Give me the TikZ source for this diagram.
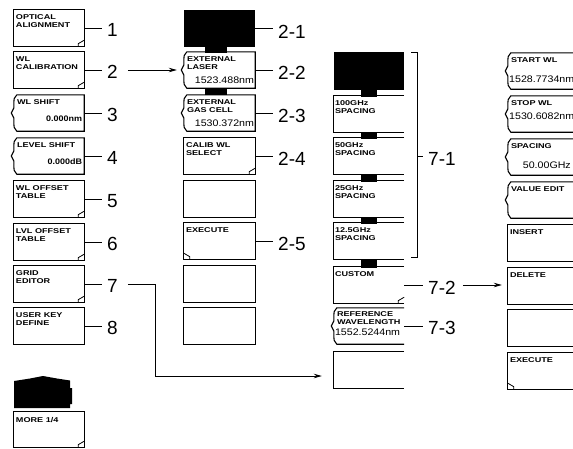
\documentclass[tikz,border=0pt]{standalone}
\usepackage{fontspec}
\setmainfont{Liberation Sans}
\newfontfamily\boxfont[FakeStretch=1.3]{Liberation Sans}
\newfontfamily\valfont[FakeStretch=1.12]{Liberation Sans}
\usetikzlibrary{calc,arrows.meta}

\tikzset{
  bl/.style={line width=1.1pt},
  ln/.style={line width=0.8pt},
  slot/.style={rectangle, inner sep=0pt, draw=none, minimum width=#1},
  btxt/.style={inner sep=0pt, anchor=north west, align=left, font={\boxfont\bfseries\fontsize{7}{8}\selectfont}},
  vtxt/.style={inner sep=0pt, font={\valfont\fontsize{9.5}{10}\selectfont}},
  vbold/.style={inner sep=0pt, font={\valfont\bfseries\fontsize{8}{9}\selectfont}},
  lab/.style={inner sep=5pt, anchor=west, font={\fontsize{19}{19}\selectfont}},
  arr/.style={ln, -{Stealth[length=8pt,width=4.5pt]}}
}

\newcommand\slotnode[5]{\node[slot=#4pt, minimum height=#5pt] (#1) at ({#2+#4/2},{#3+#5/2}) {};}
\newcommand\krect[1]{\draw[bl] (#1.north west) rectangle (#1.south east);}
\newcommand\kopen[1]{\draw[bl] (#1.north east) -- (#1.north west) -- (#1.south west) -- (#1.south east);}
\newcommand\kbrace[1]{\draw[bl] ($(#1.north west)+(3,0)$) -- (#1.north east) -- (#1.south east) -- ($(#1.south west)+(3,0)$) .. controls ($(#1.south west)+(0,-3)$) .. ($(#1.west)+(0,5)$) -- ($(#1.west)+(-2.5,0)$) -- ($(#1.west)+(0,-5)$) .. controls ($(#1.north west)+(0,3)$) .. ($(#1.north west)+(3,0)$);}
\newcommand\kbraceopen[1]{\draw[bl] (#1.north east) -- ($(#1.north west)+(3,0)$) .. controls ($(#1.north west)+(0,3)$) .. ($(#1.west)+(0,-5)$) -- ($(#1.west)+(-2.5,0)$) -- ($(#1.west)+(0,5)$) .. controls ($(#1.south west)+(0,-3)$) .. ($(#1.south west)+(3,0)$) -- (#1.south east);}
\newcommand\kfoldbr[1]{\draw[ln] ($(#1.south east)+(-6,0)$) -- ++(0,-2.5) -- ($(#1.south east)+(0,-6)$);}
\newcommand\kfoldbl[1]{\draw[ln] ($(#1.south west)+(6,0)$) -- ++(0,-2.5) -- ($(#1.south west)+(0,-6)$);}

\begin{document}
\begin{tikzpicture}[x=1pt,y=-1pt]
\useasboundingbox (0,0) rectangle (573,448);
\clip (0,0) rectangle (573,448);

% ---------- column 1 ----------
\slotnode{b1}{14}{10}{70}{36}\krect{b1}\kfoldbr{b1}
\slotnode{b2}{14}{52}{70}{36}\krect{b2}\kfoldbr{b2}
\slotnode{b3}{14}{95}{70}{36}\kbrace{b3}
\slotnode{b4}{14}{138}{70}{36}\kbrace{b4}
\slotnode{b5}{14}{181}{70}{36}\krect{b5}\kfoldbr{b5}
\slotnode{b6}{14}{224}{70}{36}\krect{b6}\kfoldbr{b6}
\slotnode{b7}{14}{266}{70}{36}\krect{b7}\kfoldbr{b7}
\slotnode{b8}{14}{308}{70}{36}\krect{b8}
\fill (14,408) -- (14,381) -- (30,378.5) -- (43,376) -- (57,378.5) -- (70,380.5) -- (70,388) -- (72,388) -- (72,404) -- (70,404) -- (70,408) -- cycle;
\slotnode{bm}{14}{412}{70}{35}\krect{bm}\kfoldbr{bm}

\node[btxt] (tb1) at ($(b1.north west)+(2,5)$) {OPTICAL\\ALIGNMENT};
\node[btxt] (tb2) at ($(b2.north west)+(2,5)$) {WL\\CALIBRATION};
\node[btxt] (tb3) at ($(b3.north west)+(3,5)$) {WL SHIFT};
\node[vbold, anchor=south east] (vb3) at ($(b3.south east)+(-2,-9)$) {0.000nm};
\node[btxt] (tb4) at ($(b4.north west)+(3,5)$) {LEVEL SHIFT};
\node[vbold, anchor=south east] (vb4) at ($(b4.south east)+(-2,-9)$) {0.000dB};
\node[btxt] (tb5) at ($(b5.north west)+(2,5)$) {WL OFFSET\\TABLE};
\node[btxt] (tb6) at ($(b6.north west)+(2,5)$) {LVL OFFSET\\TABLE};
\node[btxt] (tb7) at ($(b7.north west)+(2,5)$) {GRID\\EDITOR};
\node[btxt] (tb8) at ($(b8.north west)+(2,5)$) {USER KEY\\DEFINE};
\node[btxt] (tbm) at ($(bm.north west)+(2,5)$) {MORE 1/4};

\node[lab] (l1) at (102,30) {1};
\node[lab] (l2) at (102,72) {2};
\node[lab] (l3) at (102,115) {3};
\node[lab] (l4) at (102,158) {4};
\node[lab] (l5) at (102,201) {5};
\node[lab] (l6) at (102,244) {6};
\node[lab] (l7) at (102,286) {7};
\node[lab] (l8) at (102,328) {8};
\foreach \i in {1,...,8}{\draw[ln] (b\i.east) -- (b\i.east -| l\i.west);}

% ---------- column 2 ----------
\slotnode{c1}{184}{10}{71}{37}\fill (c1.north west) rectangle (c1.south east);
\fill (205,46) rectangle (227,53);
\slotnode{c2}{184}{52}{71}{36}\kbrace{c2}
\fill (205,88) rectangle (227,95);
\slotnode{c3}{184}{95}{71}{36}\kbrace{c3}
\slotnode{c4}{184}{138}{71}{36}\krect{c4}\kfoldbr{c4}
\slotnode{c5}{184}{181}{71}{36}\krect{c5}
\slotnode{c6}{184}{223}{71}{36}\krect{c6}\kfoldbl{c6}
\slotnode{c7}{184}{266}{71}{36}\krect{c7}
\slotnode{c8}{184}{308}{71}{36}\krect{c8}

\node[btxt] (tc2) at ($(c2.north west)+(3,5)$) {EXTERNAL\\LASER};
\node[vtxt, anchor=south east] (vc2) at ($(c2.south east)+(-1,-4)$) {1523.488nm};
\node[btxt] (tc3) at ($(c3.north west)+(3,5)$) {EXTERNAL\\GAS CELL};
\node[vtxt, anchor=south east] (vc3) at ($(c3.south east)+(-1,-4)$) {1530.372nm};
\node[btxt] (tc4) at ($(c4.north west)+(2,5)$) {CALIB WL\\SELECT};
\node[btxt] (tc6) at ($(c6.north west)+(2,5)$) {EXECUTE};

\node[lab] (l21) at (273,32) {2-1};
\node[lab] (l22) at (273,73) {2-2};
\node[lab] (l23) at (273,116) {2-3};
\node[lab] (l24) at (273,159) {2-4};
\node[lab] (l25) at (273,244) {2-5};
\draw[ln] (c1.east) -- (c1.east -| l21.west);
\draw[ln] (c2.east) -- (c2.east -| l22.west);
\draw[ln] (c3.east) -- (c3.east -| l23.west);
\draw[ln] (c4.east) -- (c4.east -| l24.west);
\draw[ln] (c6.east) -- (c6.east -| l25.west);

\draw[arr, shorten <=5pt, shorten >=7pt] (l2.east |- b2.east) -- (c2.west);

% ---------- column 3 ----------
\slotnode{d1}{334}{52}{70}{38}\fill (d1.north west) rectangle (d1.south east);
\slotnode{d2}{334}{96}{70}{36}\kopen{d2}
\slotnode{d3}{334}{138}{70}{36}\kopen{d3}
\slotnode{d4}{334}{181}{70}{36}\kopen{d4}
\slotnode{d5}{334}{223}{70}{36}\kopen{d5}
\slotnode{d6}{334}{267}{70}{36}\kopen{d6}\kfoldbr{d6}
\slotnode{d7}{334}{308}{70}{36}\kbraceopen{d7}
\slotnode{d8}{334}{352}{70}{36}\kopen{d8}
\foreach \a/\b in {89.5/96.5,131.5/138.5,173.5/181.5,216.5/223.5,258.5/267.5}{\fill (361,\a) rectangle (377,\b);}

\node[btxt] (td2) at ($(d2.north west)+(1,5)$) {100GHz\\SPACING};
\node[btxt] (td3) at ($(d3.north west)+(1,5)$) {50GHz\\SPACING};
\node[btxt] (td4) at ($(d4.north west)+(1,5)$) {25GHz\\SPACING};
\node[btxt] (td5) at ($(d5.north west)+(1,5)$) {12.5GHz\\SPACING};
\node[btxt] (td6) at ($(d6.north west)+(1,5)$) {CUSTOM};
\node[btxt] (td7) at ($(d7.north west)+(3,4)$) {REFERENCE\\WAVELENGTH};
\node[vtxt, anchor=south west] (vd7) at ($(d7.south west)+(1,-8)$) {1552.5244nm};

\coordinate (brt) at (411,52);
\coordinate (brb) at (411,257);
\coordinate (br) at (417,156);
\draw[ln] (brt) -- (brt -| br) -- (brb -| br) -- (brb);
\node[lab] (l71) at (423,159) {7-1};
\draw[ln] (br) -- (br -| l71.west);
\node[lab] (l72) at (423,288) {7-2};
\draw[ln] (d6.east) -- (d6.east -| l72.west);
\node[lab] (l73) at (423,328) {7-3};
\draw[ln] (d7.east) -- (d7.east -| l73.west);

\coordinate (k7) at (155,376);
\draw[arr, shorten <=5pt, shorten >=12pt] (l7.east |- b7.east) -- (b7.east -| k7) -- (k7) -- (k7 -| d8.west);

% ---------- column 4 ----------
\slotnode{e1}{508}{53}{80}{36}\kbraceopen{e1}
\slotnode{e2}{508}{96}{80}{36}\kbraceopen{e2}
\slotnode{e3}{508}{139}{80}{36}\kbraceopen{e3}
\slotnode{e4}{508}{182}{80}{36}\kbraceopen{e4}
\slotnode{e5}{508}{225}{80}{36}\kopen{e5}
\slotnode{e6}{508}{268}{80}{36}\kopen{e6}
\slotnode{e7}{508}{310}{80}{36}\kopen{e7}
\slotnode{e8}{508}{353}{80}{36}\kopen{e8}\kfoldbl{e8}

\node[btxt] (te1) at ($(e1.north west)+(3,5)$) {START WL};
\node[vtxt, anchor=west] (ve1) at (509,79) {1528.7734nm};
\node[btxt] (te2) at ($(e2.north west)+(3,5)$) {STOP WL};
\node[vtxt, anchor=west] (ve2) at (509,116) {1530.6082nm};
\node[btxt] (te3) at ($(e3.north west)+(3,5)$) {SPACING};
\node[vtxt, anchor=east] (ve3) at (571,165) {50.00GHz};
\node[btxt] (te4) at ($(e4.north west)+(3,5)$) {VALUE EDIT};
\node[btxt] (te5) at ($(e5.north west)+(2,5)$) {INSERT};
\node[btxt] (te6) at ($(e6.north west)+(2,5)$) {DELETE};
\node[btxt] (te8) at ($(e8.north west)+(2,5)$) {EXECUTE};

\draw[arr, shorten <=2pt, shorten >=6pt] (l72.east |- d6.east) -- (d6.east -| e6.west);
\end{tikzpicture}
\end{document}
